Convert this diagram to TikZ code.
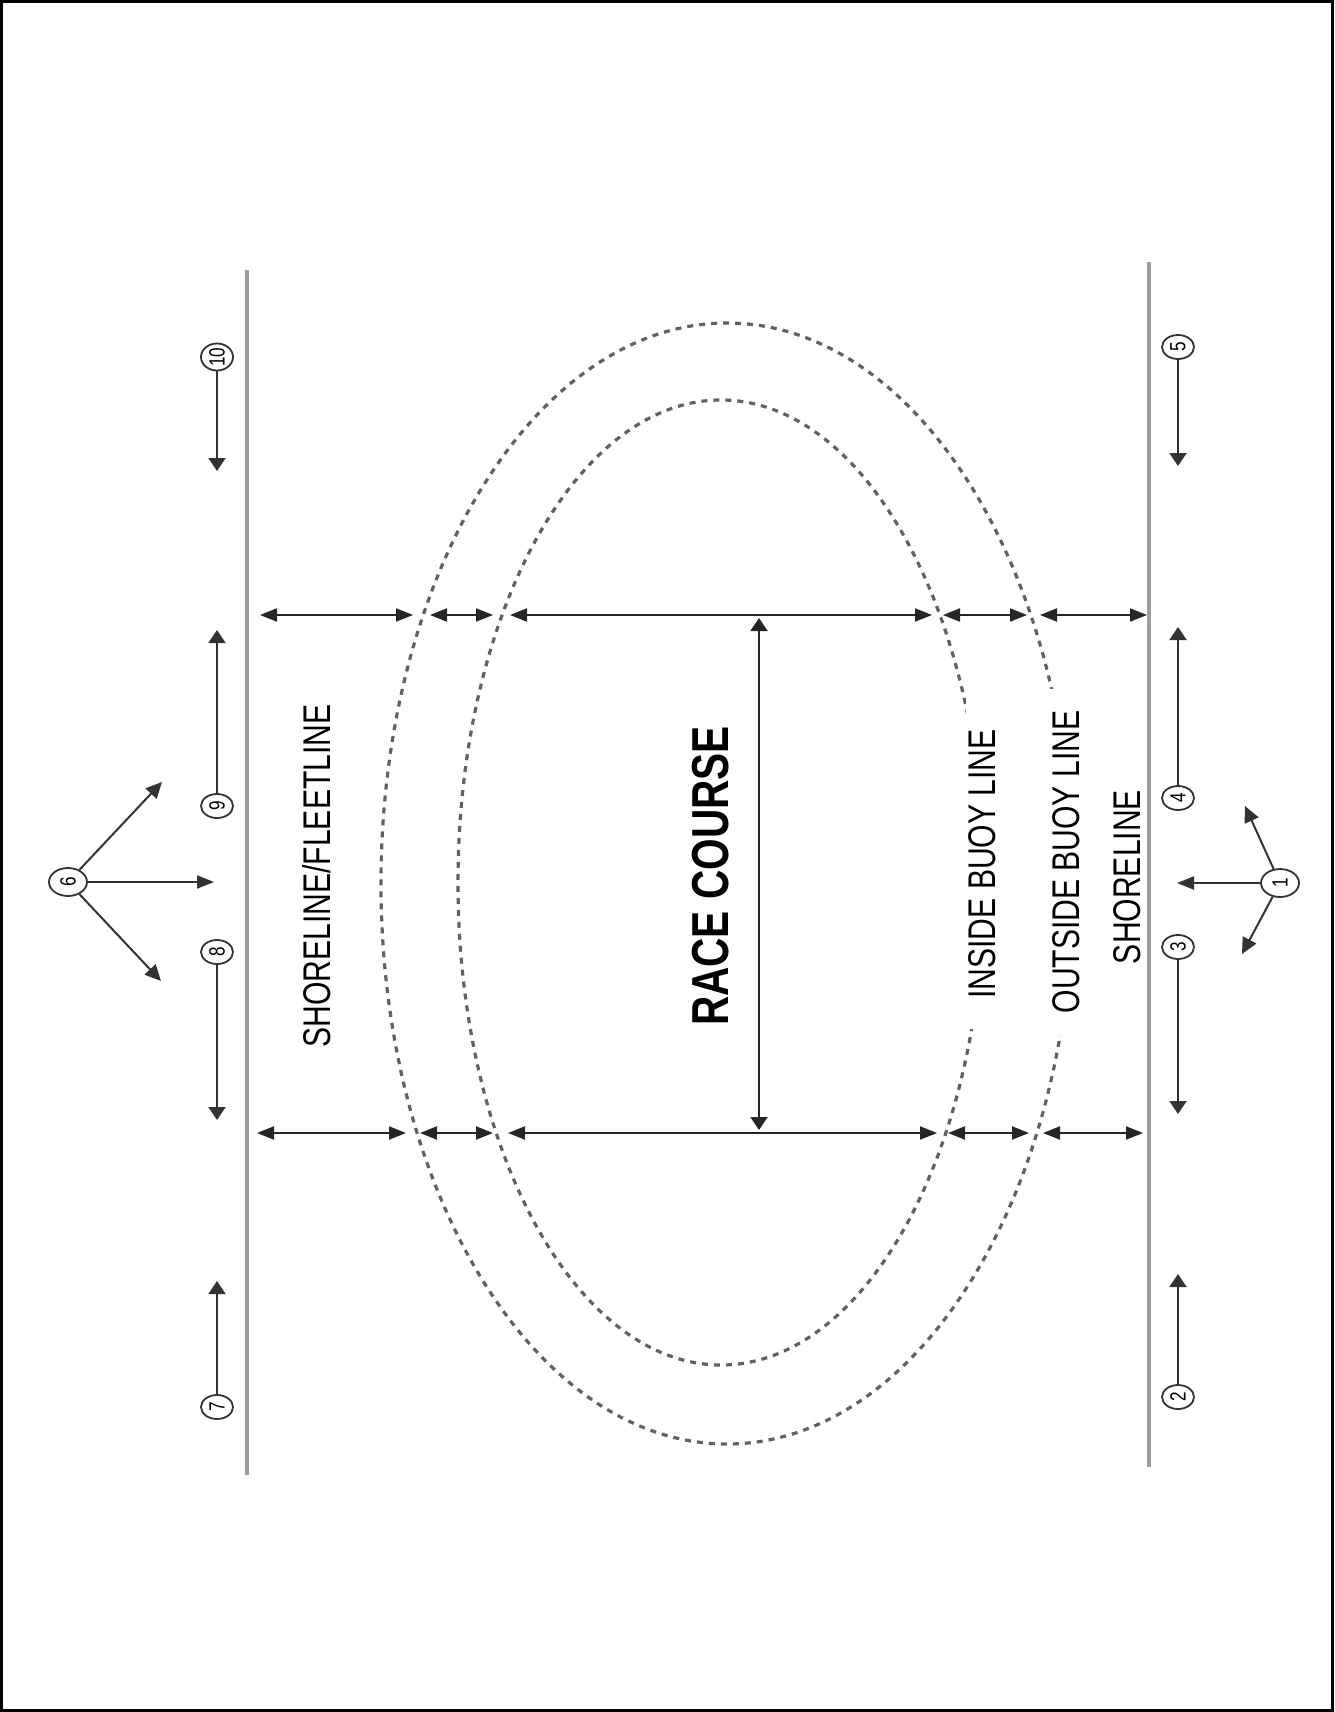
\documentclass[tikz,border=0pt]{standalone}
\usepackage{fontspec}
\newfontfamily\narrowsans[FakeStretch=0.78]{Liberation Sans}
\usetikzlibrary{arrows.meta,shapes.geometric}
\begin{document}
\begin{tikzpicture}[x=0.5pt,y=-0.5pt,
  htip/.tip={Triangle[length=8.5pt,width=6.5pt]},
  vtip/.tip={Triangle[length=6.5pt,width=8.5pt]},
  hdim/.style={htip-htip, line width=1pt, draw=black!85},
  vdim/.style={vtip-vtip, line width=1pt, draw=black!85},
  harr/.style={-htip, line width=1pt, draw=black!80},
  varr/.style={-vtip, line width=1pt, draw=black!80},
  darr/.style={-{Triangle[length=8pt,width=7.5pt]}, line width=1pt, draw=black!80},
  shore/.style={draw=black!38, line width=2pt},
  buoy/.style={draw=black!62, line width=1.6pt, dash pattern=on 3pt off 3pt},
  num/.style={draw=black!80, ellipse, line width=0.9pt, rotate=90,
    minimum width=12pt, minimum height=16pt, inner sep=0pt,
    font=\narrowsans\fontsize{11}{11}\selectfont},
  bignum/.style={num, minimum width=14pt, minimum height=19pt},
  lbl/.style={rotate=90, inner sep=1pt, font=\narrowsans\fontsize{19.3}{20}\selectfont},
  big/.style={rotate=90, inner sep=1pt, font=\narrowsans\bfseries\fontsize{26}{27}\selectfont}
]
\useasboundingbox (0,0) rectangle (1334,1712);
\draw[line width=1.5pt] (1.5,1.5) rectangle (1332.5,1710.5);

% shorelines
\coordinate (LT) at (247,270);
\coordinate (LB) at (247,1475);
\coordinate (RT) at (1149,262);
\coordinate (RB) at (1149,1467);
\draw[shore] (LT) -- (LB);
\draw[shore] (RT) -- (RB);

% buoy lines
\draw[buoy] (727,883.5) ellipse [x radius=173pt, y radius=280.25pt];
\draw[buoy] (721,882.5) ellipse [x radius=131.5pt, y radius=241.25pt];

% dimension rows
\foreach \n/\x in {a1/260,a2/413,a3/430,a4/493,a5/510,a6/932,a7/943,a8/1027,a9/1040,a10/1147}
  \coordinate (\n) at (\x,615);
\foreach \n/\x in {b1/257,b2/406,b3/420,b4/493,b5/508,b6/937,b7/948,b8/1029,b9/1043,b10/1143}
  \coordinate (\n) at (\x,1133);
\draw[hdim] (a1) -- (a2);
\draw[hdim] (a3) -- (a4);
\draw[hdim] (a5) -- (a6);
\draw[hdim] (a7) -- (a8);
\draw[hdim] (a9) -- (a10);
\draw[hdim] (b1) -- (b2);
\draw[hdim] (b3) -- (b4);
\draw[hdim] (b5) -- (b6);
\draw[hdim] (b7) -- (b8);
\draw[hdim] (b9) -- (b10);
\coordinate (rt) at (759,618);
\coordinate (rb) at (759,1130);
\draw[vdim] (rt) -- (rb);

% labels
\node[lbl] (sf) at (317,876) {SHORELINE/FLEETLINE};
\node[big] (rc) at (711,876) {RACE COURSE};
\node[lbl, fill=white, inner xsep=15pt] (ib) at (982,864) {INSIDE BUOY LINE};
\node[lbl, fill=white, inner xsep=11pt] (ob) at (1066,862) {OUTSIDE BUOY LINE};
\node[lbl] (sl) at (1127,877) {SHORELINE};

% numbered positions, left side
\node[num] (n10) at (217,357) {10};
\node[num] (n9) at (217,806) {9};
\node[num] (n8) at (217,952) {8};
\node[num] (n7) at (217,1407) {7};
\node[bignum] (n6) at (68,882) {6};
\coordinate (t10) at (217,471);
\coordinate (t9) at (217,630);
\coordinate (t8) at (217,1120);
\coordinate (t7) at (217,1281);
\draw[varr] (n10) -- (t10);
\draw[varr] (n9) -- (t9);
\draw[varr] (n8) -- (t8);
\draw[varr] (n7) -- (t7);
\coordinate (t6a) at (162,782);
\coordinate (t6b) at (214,882);
\coordinate (t6c) at (161,981);
\draw[darr] (n6) -- (t6a);
\draw[harr] (n6) -- (t6b);
\draw[darr] (n6) -- (t6c);

% numbered positions, right side
\node[num] (n5) at (1178,347) {5};
\node[num] (n4) at (1178,798) {4};
\node[num] (n3) at (1178,947) {3};
\node[num] (n2) at (1178,1397) {2};
\node[bignum] (n1) at (1280,883) {1};
\coordinate (t5) at (1178,466);
\coordinate (t4) at (1178,627);
\coordinate (t3) at (1178,1114);
\coordinate (t2) at (1178,1274);
\draw[varr] (n5) -- (t5);
\draw[varr] (n4) -- (t4);
\draw[varr] (n3) -- (t3);
\draw[varr] (n2) -- (t2);
\coordinate (t1a) at (1245,806);
\coordinate (t1b) at (1177,883);
\coordinate (t1c) at (1242,954);
\draw[darr] (n1) -- (t1a);
\draw[harr] (n1) -- (t1b);
\draw[darr] (n1) -- (t1c);
\end{tikzpicture}
\end{document}
